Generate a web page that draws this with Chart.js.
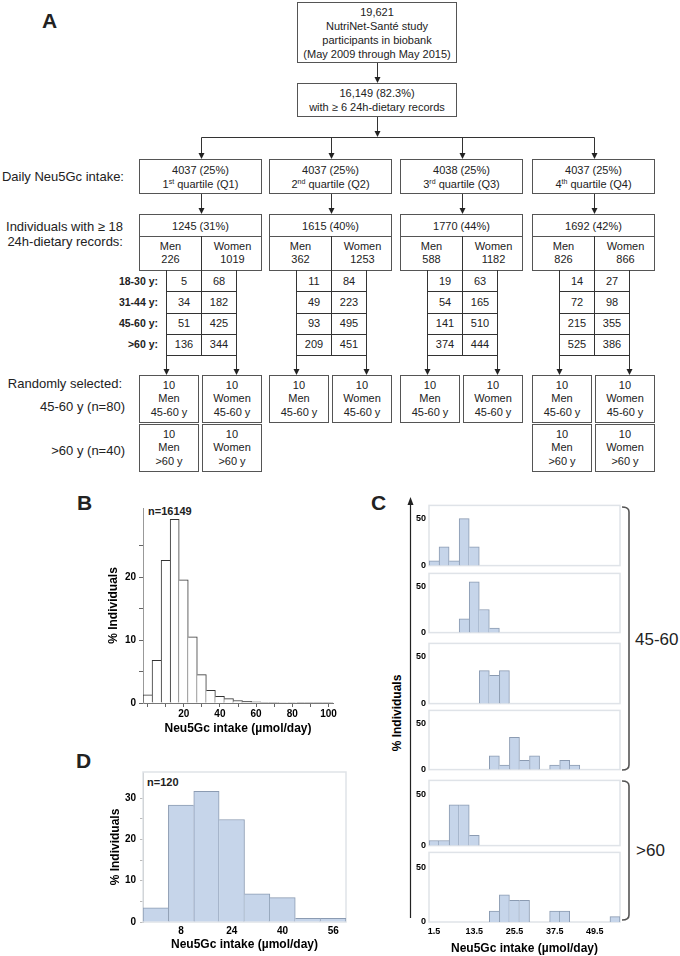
<!DOCTYPE html>
<html>
<head>
<meta charset="utf-8">
<title>Neu5Gc intake</title>
<script src="https://cdn.jsdelivr.net/npm/chart.js@4.4.1/dist/chart.umd.min.js"></script>
<style>
  body { margin: 0; background: #fff; }
  #page { position: relative; width: 680px; height: 956px; overflow: hidden; background: #fff;
          font-family: "Liberation Sans", Arial, sans-serif; color: #222; }
  .abs { position: absolute; white-space: nowrap; }
  .box { position: absolute; box-sizing: border-box; border: 1px solid #555; background: #fff;
         display: flex; flex-direction: column; justify-content: center; align-items: center;
         font-size: 11px; line-height: 14px; text-align: center; white-space: nowrap; }
  .box sup { font-size: 7px; line-height: 0; vertical-align: 4px; }
  .side { font-size: 13px; text-align: right; }
  .age { font-size: 10.5px; font-weight: bold; text-align: right; }
  .cell { font-size: 11px; text-align: center; }
  .letter { font-size: 21px; font-weight: bold; line-height: 21px; }
  .nlab { font-size: 11px; font-weight: bold; }
  canvas { position: absolute; }
  svg { position: absolute; left: 0; top: 0; }
</style>
</head>
<body>
<div id="page"></div>
<script>
// ---- flowchart numbers (panel A)
const quartileCounts = [4037, 4037, 4038, 4037];
const quartilePct = [25, 25, 25, 25];
const quartileRank = ["1<sup>st</sup>", "2<sup>nd</sup>", "3<sup>rd</sup>", "4<sup>th</sup>"];
const quartileNames = ["Q1", "Q2", "Q3", "Q4"];
const records18 = [1245, 1615, 1770, 1692];
const records18Pct = [31, 40, 44, 42];
const menCount = [226, 362, 588, 826];
const womenCount = [1019, 1253, 1182, 866];
const ageGroups = ["18-30 y:", "31-44 y:", "45-60 y:", "&gt;60 y:"];
const menByAge = [[5, 34, 51, 136], [11, 49, 93, 209], [19, 54, 141, 374], [14, 72, 215, 525]];
const womenByAge = [[68, 182, 425, 344], [84, 223, 495, 451], [63, 165, 510, 444], [27, 98, 355, 386]];
const olderSelected = [true, false, false, true];

// ---- panel B: all participants, 5 umol/day bins
const binsB = [0, 5, 10, 15, 20, 25, 30, 35, 40, 45, 50, 55, 60, 65, 70, 75, 80, 85, 90, 95, 100];
const pctB = [1.3, 6.8, 22.7, 29.2, 19.6, 10.5, 4.5, 2.0, 1.05, 0.7, 0.4, 0.25, 0.18, 0.12, 0.1, 0.08, 0.06, 0.05, 0.04, 0.03, 0.03];

// ---- panel C: selected groups, 3 umol/day bins
const binsC = [1.5, 4.5, 7.5, 10.5, 13.5, 16.5, 19.5, 22.5, 25.5, 28.5, 31.5, 34.5, 37.5, 40.5, 43.5, 46.5, 49.5, 52.5, 55.5];
const q1Mid = [5, 20, 5, 50, 20, 0, 0, 0, 0, 0, 0, 0, 0, 0, 0, 0, 0, 0, 0];
const q2Mid = [0, 0, 0, 15, 55, 25, 5, 0, 0, 0, 0, 0, 0, 0, 0, 0, 0, 0, 0];
const q3Mid = [0, 0, 0, 0, 0, 35, 30, 35, 0, 0, 0, 0, 0, 0, 0, 0, 0, 0, 0];
const q4Mid = [0, 0, 0, 0, 0, 0, 15, 5, 35, 10, 15, 0, 5, 10, 5, 0, 0, 0, 0];
const q1Old = [5, 5, 40, 40, 10, 0, 0, 0, 0, 0, 0, 0, 0, 0, 0, 0, 0, 0, 0];
const q4Old = [0, 0, 0, 0, 0, 0, 10, 25, 20, 20, 0, 0, 10, 10, 0, 0, 0, 0, 5];

// ---- panel D: the 120 selected, 8 umol/day bins
const binsD = [0, 8, 16, 24, 32, 40, 48, 56];
const pctD = [3.4, 28.3, 31.6, 24.8, 6.8, 5.9, 0.9, 0.9];

const page = document.getElementById("page");

function addDiv(cls, html, css) {
  const d = document.createElement("div");
  d.className = cls;
  d.innerHTML = html;
  Object.assign(d.style, css);
  page.appendChild(d);
  return d;
}
// text block centred vertically on cy; anchor left / right / center at x
function addText(cls, html, x, cy, align, lh = 18, nLines = 1) {
  const h = lh * nLines;
  const css = { top: (cy - h / 2) + "px", lineHeight: lh + "px", height: h + "px" };
  if (align === "right") { css.right = (680 - x) + "px"; css.textAlign = "right"; }
  else if (align === "center") { css.left = (x - 60) + "px"; css.width = "120px"; css.textAlign = "center"; }
  else css.left = x + "px";
  return addDiv("abs " + cls, html, css);
}
function addBox(x, y, w, h, lines, lh = 14) {
  return addDiv("box", `<div>${lines.join("<br>")}</div>`, {
    left: x + "px", top: y + "px", width: w + "px", height: h + "px", lineHeight: lh + "px"
  });
}

// ---- SVG for connectors
const svgNS = "http://www.w3.org/2000/svg";
const svg = document.createElementNS(svgNS, "svg");
svg.setAttribute("width", 680);
svg.setAttribute("height", 956);
function svgEl(tag, attrs) {
  const e = document.createElementNS(svgNS, tag);
  for (const k in attrs) e.setAttribute(k, attrs[k]);
  svg.appendChild(e);
  return e;
}
function line(x1, y1, x2, y2, col = "#333", w = 1) {
  svgEl("line", { x1, y1, x2, y2, stroke: col, "stroke-width": w });
}
function arrowDown(x, y1, y2) {
  line(x, y1, x, y2 - 5);
  svgEl("polygon", { points: `${x - 3},${y2 - 6} ${x + 3},${y2 - 6} ${x},${y2}`, fill: "#222" });
}

// ---- panel A
addText("letter", "A", 42, 20, "left", 21);
addBox(297, 2, 160, 61, ["19,621", "NutriNet-Santé study", "participants in biobank", "(May 2009 through May 2015)"]);
arrowDown(377.5, 63, 83);
addBox(297, 83, 160, 34, ["16,149 (82.3%)", "with ≥ 6 24h-dietary records"]);
arrowDown(377.5, 117, 137);

const colLeft = [139, 269, 400, 532];
const colW = 123;
const centers = colLeft.map(l => Math.round(l + colW / 2) + 0.5);
line(centers[0], 137.5, centers[3], 137.5);

addText("side", "Daily Neu5Gc intake:", 124, 176.5, "right");
addText("side", "Individuals with ≥ 18<br>24h-dietary records:", 123, 234, "right", 15, 2);
addText("side", "Randomly selected:", 122, 384, "right");
addText("side", "45-60 y (n=80)", 125, 407, "right");
addText("side", "&gt;60 y (n=40)", 125, 451, "right");

const rowTop = 270, rowH = 21.25;
ageGroups.forEach((g, r) => addText("age", g, 158, rowTop + rowH * (r + 0.5), "right"));

colLeft.forEach((left, i) => {
  const c = centers[i];
  arrowDown(c, 137.5, 159);
  addBox(left, 159, colW, 35, [`${quartileCounts[i]} (${quartilePct[i]}%)`, `${quartileRank[i]} quartile (${quartileNames[i]})`]);
  arrowDown(c, 194, 214);
  addBox(left, 214, colW, 23, [`${records18[i]} (${records18Pct[i]}%)`]);
  addBox(left, 236, colW, 35, []);
  addText("cell", `Men<br>${menCount[i]}`, c - 31, 252.5, "center", 13, 2);
  addText("cell", `Women<br>${womenCount[i]}`, c + 31, 252.5, "center", 13, 2);
  // age table
  const tl = c - 35, tr = c + 35;
  line(c, 236, c, rowTop + rowH * 4);
  line(tl, rowTop, tl, rowTop + rowH * 4);
  line(tr, rowTop, tr, rowTop + rowH * 4);
  for (let r = 0; r < 4; r++) {
    const yb = Math.round(rowTop + rowH * (r + 1)) + 0.5;
    line(tl, yb, tr, yb);
    addText("cell", String(menByAge[i][r]), c - 17.5, rowTop + rowH * (r + 0.5), "center");
    addText("cell", String(womenByAge[i][r]), c + 17.5, rowTop + rowH * (r + 0.5), "center");
  }
  arrowDown(tl, rowTop + rowH * 4, 375);
  arrowDown(tr, rowTop + rowH * 4, 375);
  addBox(left, 375, 60, 48, ["10", "Men", "45-60 y"], 13.5);
  addBox(left + 63, 375, 60, 48, ["10", "Women", "45-60 y"], 13.5);
  if (olderSelected[i]) {
    addBox(left, 424, 60, 48, ["10", "Men", "&gt;60 y"], 13.5);
    addBox(left + 63, 424, 60, 48, ["10", "Women", "&gt;60 y"], 13.5);
  }
});

// ---- panel letters and labels for B, C, D
addText("letter", "B", 77, 502, "left", 21);
addText("letter", "C", 371, 502, "left", 21);
addText("letter", "D", 76, 760, "left", 21);
addText("nlab", "n=16149", 148, 511, "left", 14);
addText("nlab", "n=120", 147, 782, "left", 14);
addText("", "45-60", 635, 640, "left", 20).style.fontSize = "17px";
addText("", "&gt;60", 636, 851, "left", 20).style.fontSize = "17px";
addDiv("abs", "% Individuals", {
  left: "337px", top: "706px", width: "120px", height: "14px", lineHeight: "14px",
  textAlign: "center", fontSize: "12px", fontWeight: "bold", transform: "rotate(-90deg)", color: "#000"
});
// C vertical arrow axis and brackets
line(410.5, 503, 410.5, 918, "#222", 1.2);
svgEl("polygon", { points: "407.5,505 413.5,505 410.5,497", fill: "#222" });
svgEl("path", { d: "M622 507 Q629 507 629 512 L629 765 Q629 770 622 770", stroke: "#555", "stroke-width": 1.6, fill: "none" });
svgEl("path", { d: "M622 781 Q629 781 629 786 L629 915 Q629 920 622 920", stroke: "#555", "stroke-width": 1.6, fill: "none" });
page.appendChild(svg);

// ---- charts
Chart.defaults.font.family = '"Liberation Sans", Arial, sans-serif';
Chart.defaults.color = "#000";
Chart.defaults.animation = false;
Chart.defaults.plugins.legend.display = false;
Chart.defaults.plugins.tooltip.enabled = false;

const framePlugin = {
  id: "frame",
  beforeDatasetsDraw(chart, args, opts) {
    const { ctx, chartArea: a } = chart;
    ctx.save();
    ctx.strokeStyle = opts.color || "#dde1e6";
    ctx.lineWidth = opts.width || 1.5;
    ctx.strokeRect(a.left, a.top, a.right - a.left, a.bottom - a.top);
    ctx.restore();
  }
};

function makeCanvas(id, left, top, w, h) {
  const c = document.createElement("canvas");
  c.id = id;
  c.width = w;
  c.height = h;
  Object.assign(c.style, { left: left + "px", top: top + "px", width: w + "px", height: h + "px" });
  page.appendChild(c);
  return c;
}

// each shared bar edge is drawn once, by the taller bar
function edgeWidths(values) {
  return (ctx) => {
    const i = ctx.dataIndex;
    const v = values[i] || 0;
    const prev = values[i - 1] || 0;
    const next = values[i + 1] || 0;
    return { top: 1, bottom: 0, left: v > prev || i === 0 ? 1 : 0, right: v >= next ? 1 : 0 };
  };
}
const noZero = arr => arr.map(v => (v === 0 ? null : v));

const boldFont = size => ({ size, weight: "bold" });

// panel B
new Chart(makeCanvas("chartB", 95, 495, 250, 250), {
  type: "bar",
  data: {
    labels: binsB,
    datasets: [{
      data: pctB, backgroundColor: "#ffffff", borderColor: "#333333",
      borderWidth: edgeWidths(pctB), borderSkipped: false, barPercentage: 1, categoryPercentage: 1
    }]
  },
  options: {
    responsive: false, devicePixelRatio: 1,
    layout: { padding: { top: 13, right: 12, left: 0, bottom: 0 } },
    scales: {
      x: {
        grid: { drawOnChartArea: false, offset: false, tickLength: 4,
                tickColor: c => (binsB[c.index] % 10 === 0 ? "#666" : "rgba(0,0,0,0)") },
        border: { color: "#777" },
        ticks: { autoSkip: false, maxRotation: 0, padding: 1, font: boldFont(10),
                 callback: (v, i) => (binsB[i] % 20 === 0 && binsB[i] > 0 ? binsB[i] : "") },
        title: { display: true, text: "Neu5Gc intake (µmol/day)", font: boldFont(12), padding: { top: 0, bottom: 9 } },
        afterFit: s => { s.height = 42; }
      },
      y: {
        min: 0, max: 31,
        afterBuildTicks: s => { s.ticks = s.ticks.filter(t => t.value <= 30); },
        grid: { drawOnChartArea: false, tickLength: 4, tickColor: "#666" },
        border: { color: "#999" },
        ticks: { stepSize: 5, padding: 3, font: boldFont(10), callback: v => (v % 10 === 0 ? v : "") },
        title: { display: true, text: "% Individuals", font: boldFont(12), padding: { top: 11, bottom: 0 } },
        afterFit: s => { s.width = 48; }
      }
    }
  }
});

// panel C: six stacked histograms sharing one x range
const cSeries = [q1Mid, q2Mid, q3Mid, q4Mid, q1Old, q4Old];
const cPlotY = [[503, 568], [571, 635], [641, 706], [708, 772], [778, 848], [850, 922]];
cSeries.forEach((vals, k) => {
  const last = k === cSeries.length - 1;
  const [pt, pb] = cPlotY[k];
  const top = pt - 6;
  const bottom = last ? 956 : pb + 6;
  new Chart(makeCanvas("chartC" + k, 405, top, 222, bottom - top), {
    type: "bar",
    plugins: [framePlugin],
    data: {
      labels: binsC,
      datasets: [{
        data: noZero(vals), backgroundColor: "#c6d5ea", borderColor: "#8b9bb2",
        borderWidth: edgeWidths(vals), borderSkipped: false, barPercentage: 1, categoryPercentage: 1
      }]
    },
    options: {
      responsive: false, devicePixelRatio: 1,
      layout: { padding: { top: 6, right: 7, left: 0, bottom: 0 } },
      plugins: { frame: { color: "#dfe3e8", width: 1.5 } },
      scales: {
        x: {
          grid: { display: false, drawTicks: false },
          border: { display: false },
          ticks: { display: last, autoSkip: false, maxRotation: 0, padding: 4, font: boldFont(9),
                   callback: (v, i) => (i % 4 === 0 && i <= 16 ? binsC[i] : "") },
          title: { display: last, text: "Neu5Gc intake (µmol/day)", font: boldFont(12), padding: { top: 0, bottom: 0 } },
          afterFit: s => { s.height = last ? 34 : 6; }
        },
        y: {
          min: 0, max: 64,
          afterBuildTicks: s => { s.ticks = [{ value: 0 }, { value: 50 }]; },
          grid: { display: false, drawTicks: false },
          border: { display: false },
          ticks: { padding: 3, font: boldFont(9) },
          afterFit: s => { s.width = 24; }
        }
      }
    }
  });
});

// panel D
new Chart(makeCanvas("chartD", 95, 760, 255, 196), {
  type: "bar",
  plugins: [framePlugin],
  data: {
    labels: binsD,
    datasets: [{
      data: pctD, backgroundColor: "#c6d5ea", borderColor: "#8b9bb2",
      borderWidth: edgeWidths(pctD), borderSkipped: false, barPercentage: 1, categoryPercentage: 1
    }]
  },
  options: {
    responsive: false, devicePixelRatio: 1,
    layout: { padding: { top: 12, right: 4, left: 0, bottom: 0 } },
    plugins: { frame: { color: "#dfe3e8", width: 1.5 } },
    scales: {
      x: {
        grid: { display: false, drawTicks: false },
        border: { display: false },
        ticks: { autoSkip: false, maxRotation: 0, padding: 3, font: boldFont(10),
                 callback: (v, i) => (i % 2 === 1 ? binsD[i] : "") },
        title: { display: true, text: "Neu5Gc intake (µmol/day)", font: boldFont(12), padding: { top: 0, bottom: 4 } },
        afterFit: s => { s.height = 34; }
      },
      y: {
        min: 0, max: 36.3,
        afterBuildTicks: s => { s.ticks = s.ticks.filter(t => t.value <= 30); },
        grid: { drawOnChartArea: false, tickLength: 3, tickColor: "#bbb" },
        border: { color: "#aaa" },
        ticks: { stepSize: 5, padding: 4, font: boldFont(10), callback: v => (v % 10 === 0 ? v : "") },
        title: { display: true, text: "% Individuals", font: boldFont(12), padding: { top: 13, bottom: 0 } },
        afterFit: s => { s.width = 48; }
      }
    }
  }
});
</script>
</body>
</html>
